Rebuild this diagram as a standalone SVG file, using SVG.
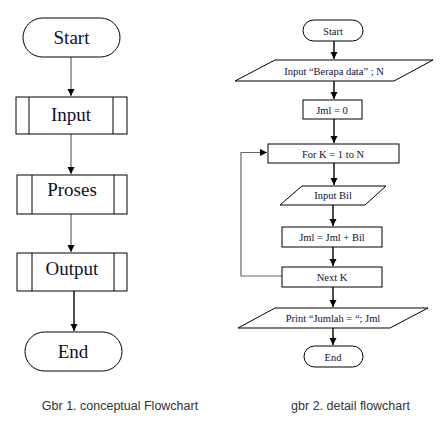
<svg xmlns="http://www.w3.org/2000/svg" width="445" height="425" viewBox="0 0 445 425">
<style>
.box{fill:#fff;stroke:#000;stroke-width:1}
.t1{font-family:"Liberation Serif",serif;font-size:19px;fill:#101030;text-anchor:middle}
.t2{font-family:"Liberation Serif",serif;font-size:10.5px;fill:#101030;text-anchor:middle}
.cap{font-family:"Liberation Sans",sans-serif;font-size:12.5px;fill:#333;text-anchor:middle}
.ln{fill:none;stroke:#444;stroke-width:1}
.lnb{fill:none;stroke:#000;stroke-width:1.4}
.lg{fill:none;stroke:#666;stroke-width:1.2}
</style>
<defs>
<marker id="ah" markerWidth="8" markerHeight="8" refX="7" refY="4" orient="auto" markerUnits="userSpaceOnUse">
<path d="M0,0.5 L7,4 L0,7.5 Z" fill="#000"/>
</marker>
</defs>
<rect width="445" height="425" fill="#fff"/>
<g id="connectors">
<line class="ln" x1="71" y1="57" x2="71" y2="96" marker-end="url(#ah)"/>
<line class="ln" x1="71" y1="134" x2="71" y2="174" marker-end="url(#ah)"/>
<line class="ln" x1="71" y1="214" x2="71" y2="252" marker-end="url(#ah)"/>
<line class="lnb" x1="74" y1="291" x2="74" y2="331" marker-end="url(#ah)"/>
<line class="lnb" x1="334" y1="41" x2="334" y2="59" marker-end="url(#ah)"/>
<line class="lnb" x1="334" y1="81" x2="334" y2="99" marker-end="url(#ah)"/>
<line class="lnb" x1="334" y1="119" x2="334" y2="143" marker-end="url(#ah)"/>
<line class="lnb" x1="334" y1="163" x2="334" y2="185" marker-end="url(#ah)"/>
<line class="lnb" x1="333" y1="205" x2="333" y2="226" marker-end="url(#ah)"/>
<line class="lnb" x1="333" y1="247" x2="333" y2="266" marker-end="url(#ah)"/>
<line class="lnb" x1="333" y1="287" x2="333" y2="307" marker-end="url(#ah)"/>
<line class="lnb" x1="333" y1="328" x2="333" y2="345" marker-end="url(#ah)"/>
<polyline class="lg" points="282,276 241,276 241,152.5 267,152.5" marker-end="url(#ah)"/>
</g>
<g id="start1">
<rect class="box" x="23" y="18" width="97" height="39" rx="19.5"/>
<text class="t1" x="71.5" y="44">Start</text>
</g>
<g id="input1">
<rect class="box" x="16" y="97" width="111" height="37"/>
<line class="box" x1="29" y1="97" x2="29" y2="134"/>
<line class="box" x1="113" y1="97" x2="113" y2="134"/>
<text class="t1" x="71" y="121">Input</text>
</g>
<g id="proses1">
<rect class="box" x="17" y="175" width="110" height="39"/>
<line class="box" x1="32" y1="175" x2="32" y2="214"/>
<line class="box" x1="114" y1="175" x2="114" y2="214"/>
<text class="t1" x="72" y="196">Proses</text>
</g>
<g id="output1">
<rect class="box" x="17" y="253" width="110" height="38"/>
<line class="box" x1="32" y1="253" x2="32" y2="291"/>
<line class="box" x1="114" y1="253" x2="114" y2="291"/>
<text class="t1" x="72" y="275">Output</text>
</g>
<g id="end1">
<rect class="box" x="25" y="332" width="97" height="39" rx="19.5"/>
<text class="t1" x="73" y="358">End</text>
</g>
<g id="start2">
<rect class="box" x="303" y="20" width="60" height="21" rx="10.5"/>
<text class="t2" x="333" y="34.5">Start</text>
</g>
<g id="inputN">
<polygon class="box" points="275,60 433,60 394,81 235,81"/>
<text class="t2" x="334" y="74.5">Input “Berapa data” ; N</text>
</g>
<g id="jml0">
<rect class="box" x="303" y="100" width="59" height="19"/>
<text class="t2" x="332" y="113.5">Jml = 0</text>
</g>
<g id="fork">
<rect class="box" x="268" y="144" width="131" height="19"/>
<text class="t2" x="333" y="157.5">For K = 1 to N</text>
</g>
<g id="inputbil">
<polygon class="box" points="302,186 386,186 365,205 280,205"/>
<text class="t2" x="333" y="198.5">Input Bil</text>
</g>
<g id="jmlbil">
<rect class="box" x="282" y="227" width="100" height="20"/>
<text class="t2" x="332" y="240.5">Jml = Jml + Bil</text>
</g>
<g id="nextk">
<rect class="box" x="282" y="267" width="100" height="20"/>
<text class="t2" x="332" y="280.5">Next K</text>
</g>
<g id="print">
<polygon class="box" points="275,308 428,308 390,328 238,328"/>
<text class="t2" x="333" y="321.5">Print “Jumlah = “; Jml</text>
</g>
<g id="end2">
<rect class="box" x="304" y="346" width="59" height="21" rx="10.5"/>
<text class="t2" x="333" y="360.5">End</text>
</g>
<g id="captions">
<text class="cap" x="120" y="410">Gbr 1. conceptual Flowchart</text>
<text class="cap" x="350.5" y="410">gbr 2. detail flowchart</text>
</g>
</svg>
